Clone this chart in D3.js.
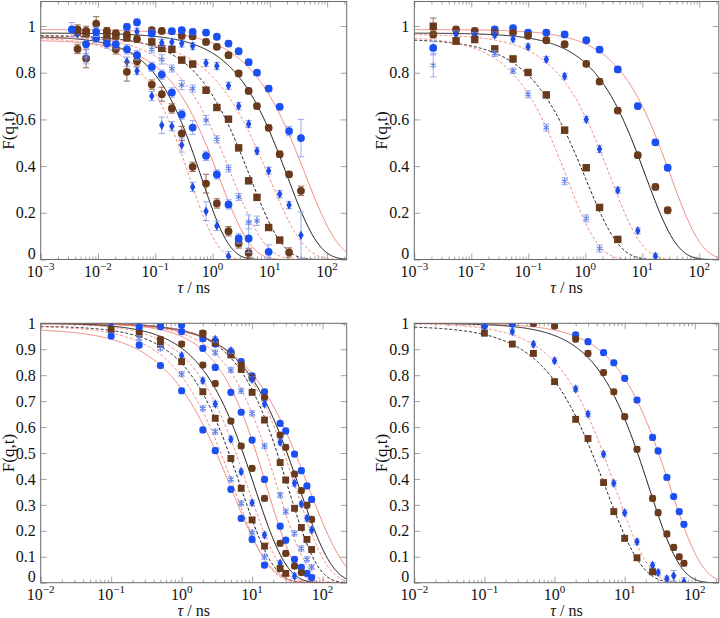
<!DOCTYPE html>
<html><head><meta charset="utf-8">
<script src="https://cdn.jsdelivr.net/npm/d3@7"></script>
<style>body{margin:0;background:#fff}svg{display:block}
svg text{font-family:"Liberation Serif","DejaVu Serif",serif !important;fill:#111}</style>
</head><body>
<svg id="c" width="720" height="618"></svg>
<script>
// ================= DATA =================
// ---- Panel 1 (top-left) ----
const p1Tau = [0.0035,0.0044,0.0062,0.0093,0.0143,0.0205,0.032,0.048,0.087,0.13,0.195,0.29,0.45,0.77,1.19,1.9,2.86,4.27,5.97,9.55,14.9,21.7,35];
const _ = null;
const p1DiaFast   = [_,_,_,_,0.94,0.91,0.847,0.807,0.70,0.575,0.571,0.49,0.311,0.207,0.144,0.014,_,_,_,_,_,_,_];
const p1DiaFastE  = [_,_,_,_,0.02,0.02,0.02,0.015,0.02,0.035,0.02,0.03,0.02,0.04,0.02,0.02,_,_,_,_,_,_,_];
const p1BrCirFast = [_,0.902,0.861,_,0.944,0.90,0.804,0.849,0.749,0.708,0.647,0.54,0.397,0.325,0.24,0.121,0.069,0.028,_,_,_,0.03,_];
const p1BrCirFastE= [_,0.02,0.04,_,0.02,0.02,0.04,0.02,0.02,0.03,0.02,0.03,0.02,0.04,0.02,0.02,0.02,0.02,_,_,_,0.02,_];
const p1BlCirFast = [_,_,0.922,0.949,0.925,0.922,0.90,0.875,0.825,0.792,0.715,0.621,0.565,0.444,0.364,0.236,0.09,0.09,_,0.033,_,_,_];
const p1BlCirFastE= [_,_,0.04,0.02,0.02,0.02,0.02,0.02,0.02,0.02,0.02,0.02,0.03,0.02,0.02,0.02,0.02,0.06,_,0.03,_,_,_];
const p1Star      = [_,_,0.868,_,_,_,_,_,0.90,0.857,0.818,0.747,0.732,0.597,0.515,0.39,0.268,0.161,0.166,_,_,_,_];
const p1StarE     = [_,_,0.03,_,_,_,_,_,0.015,0.02,0.015,0.02,0.015,0.02,0.015,0.015,0.015,0.03,0.02,_,_,_,_];
const p1BrSq      = [_,0.975,0.968,_,0.963,0.958,0.95,_,0.932,0.904,0.90,0.854,0.837,0.725,0.651,0.601,0.478,0.337,0.266,0.137,0.083,_,_];
const p1BrSqE     = [_,0.015,0.015,_,0.015,0.015,0.015,_,0.012,0.012,0.012,0.012,0.012,0.012,0.012,0.012,0.012,0.012,0.012,0.012,0.012,_,_];
const p1DiaSlow   = [_,0.968,_,0.975,_,_,_,0.975,_,0.928,0.932,0.925,0.914,0.842,0.829,0.744,0.657,0.58,0.465,0.38,0.28,0.233,0.104];
const p1DiaSlowE  = [_,0.02,_,0.02,_,_,_,0.015,_,0.015,0.015,0.015,0.015,0.015,0.015,0.015,0.015,0.015,0.015,0.015,0.015,0.015,0.1];
const p1BrCirSlow = [_,0.985,0.979,1.01,0.979,0.968,0.963,0.944,0.982,0.979,_,0.958,0.956,0.932,0.911,0.875,0.797,0.722,0.657,0.564,0.451,0.365,0.294];
const p1BrCirSlowE= [_,0.02,0.02,0.03,0.015,0.015,0.015,0.015,0.012,0.012,_,0.012,0.012,0.012,0.012,0.012,0.012,0.012,0.012,0.012,0.012,0.012,0.02];
const p1BlCirSlow = [0.985,_,_,0.975,_,_,0.996,1.016,0.968,_,0.978,0.982,0.975,0.972,0.954,0.925,0.892,0.845,0.80,0.732,0.654,0.55,0.52];
const p1BlCirSlowE= [0.03,_,_,0.02,_,_,0.015,0.015,0.015,_,0.012,0.012,0.012,0.012,0.012,0.012,0.012,0.012,0.012,0.012,0.012,0.02,0.08];
// fits F = A exp(-(t/tau)^beta)
const p1FitAmp  = [0.95,0.955,0.94,0.96,0.96,0.95,0.97,0.985];
const p1FitTau  = [0.40,0.64,1.33,2.21,4.54,9.8,20.2,42];
const p1FitBeta = [0.9,0.9,0.8,0.75,0.77,0.72,0.79,0.75];

// ---- Panel 2 (top-right) ----
const p2Tau = [0.00215,0.0054,0.0115,0.0258,0.054,0.099,0.207,0.434,1.04,1.78,3.72,8.34,17.0,27.9];
const p2BlCir = [0.906,_,_,0.985,0.991,0.972,0.972,0.964,0.939,0.899,0.814,0.657,0.502,0.393];
const p2BlCirE= [0.03,_,_,0.012,0.012,0.012,0.012,0.012,0.012,0.012,0.012,0.012,0.012,0.012];
const p2BrCir = [0.964,0.985,0.979,0.972,0.971,0.958,0.939,0.922,0.838,0.762,0.638,0.447,0.311,0.211];
const p2BrCirE= [0.015,0.012,0.012,0.012,0.012,0.012,0.012,0.012,0.012,0.012,0.012,0.012,0.012,0.012];
const p2Dia   = [_,0.964,0.96,0.962,0.944,0.911,0.857,0.785,0.60,0.473,0.297,0.123,0.014,_];
const p2DiaE  = [_,0.015,0.012,0.012,0.012,0.012,0.012,0.012,0.012,0.015,0.012,0.012,0.012,_];
const p2BrSq  = [0.999,0.936,0.942,0.902,0.859,0.801,0.705,0.554,0.393,0.223,0.086,_,_,_];
const p2BrSqE = [0.035,0.015,0.012,0.012,0.012,0.012,0.012,0.012,0.012,0.012,0.012,_,_,_];
const p2Star  = [0.832,_,_,0.882,0.808,0.707,0.565,0.335,0.176,0.047,_,_,_,_];
const p2StarE = [0.05,_,_,0.012,0.012,0.015,0.015,0.015,0.015,0.015,_,_,_,_];
const p2FitAmp  = [0.985,0.97,0.965,0.945,0.955];
const p2FitTau  = [31,11.5,2.74,1.01,0.473];
const p2FitBeta = [0.8,0.8,0.78,0.74,0.78];

// ---- Panel 3 (bottom-left) ----
const p3Tau = [0.1,0.25,0.5,1,2,3,5,7,10,15,25,30,40,50,60,70];
const p3BlCirA = [_,1.0,0.997,0.993,0.94,0.92,0.89,0.852,0.797,0.736,0.614,0.585,0.496,0.432,0.373,0.321];
const p3BrCirB = [_,_,_,_,0.962,0.93,0.885,0.84,0.79,0.714,0.569,0.522,0.419,0.355,0.299,0.244];
const p3BrSqC  = [_,_,_,_,0.959,0.925,0.878,0.822,0.734,0.627,0.463,0.396,0.287,0.213,0.167,0.128];
const p3DiaD   = [0.997,_,_,_,_,0.938,0.894,_,0.784,0.689,0.541,_,0.383,0.303,0.248,0.203];
const p3StarE  = [_,_,_,_,_,0.887,0.82,0.74,0.653,0.527,0.338,0.274,0.19,0.132,0.09,0.06];
const p3BlCirF = [_,0.984,0.987,0.968,0.903,0.83,0.734,0.657,0.55,0.398,0.218,0.164,0.09,0.059,0.036,0.02];
const p3BrCirG = [_,_,0.938,0.92,0.839,0.768,0.623,0.527,0.441,0.325,0.152,0.113,0.064,0.039,_,_];
const p3DiaH   = [_,_,_,0.875,0.779,0.689,0.553,0.428,0.308,0.184,0.075,_,0.026,_,_,_];
const p3BrSqI  = [0.977,0.961,0.919,0.852,0.736,0.634,0.479,0.364,0.242,0.141,0.055,0.036,_,_,_,_];
const p3StarJ  = [_,0.942,0.904,0.804,0.672,0.582,0.398,0.306,0.193,0.10,_,_,_,_,_,_];
const p3BlCirK = [0.951,0.916,0.837,0.74,0.589,0.509,0.36,0.248,0.167,0.068,_,_,_,_,_,_];
const p3FitAmp  = [1.0,1.0,1.0,1.0,1.0,1.0,1.0,1.0,0.99,0.99,0.98];
const p3FitTau  = [63.4,46.5,32.3,41.4,22.9,16.2,10.9,8.7,7.0,5.55,5.1];
const p3FitBeta = [0.83,0.93,1.04,0.967,1.03,1.06,0.96,0.94,0.947,0.886,0.8];

// ---- Panel 4 (bottom-right) ----
const p4Tau = [0.1,0.25,0.5,1,2,3,5,7,10,15,25,30,40,50,60,70];
const p4BlCir = [0.991,0.997,1.0,_,0.955,0.929,0.887,0.848,0.788,0.704,0.56,0.508,0.406,0.332,0.274,0.225];
const p4BrCir = [_,_,1.0,0.99,0.939,0.884,0.81,0.736,0.64,0.514,0.325,0.27,0.188,0.136,0.10,0.075];
const p4Dia   = [0.987,0.968,0.919,0.856,0.747,0.65,0.495,0.383,0.27,0.158,0.067,0.039,0.015,0.027,_,0.004];
const p4DiaE  = [0.01,0.01,0.01,0.01,0.01,0.01,0.01,0.01,0.01,0.01,0.01,0.01,0.01,0.02,_,0.015];
const p4BrSq  = [0.962,0.92,0.884,0.775,0.63,0.556,0.386,0.274,0.171,0.096,0.042,_,_,_,_,_];
const p4FitAmp  = [1.0,1.0,1.0,0.99];
const p4FitTau  = [44.6,22.2,7.35,5.37];
const p4FitBeta = [0.955,0.977,0.914,0.846];

const yTicksTop = [0,0.2,0.4,0.6,0.8,1];
const yTicksBot = [0,0.1,0.2,0.3,0.4,0.5,0.6,0.7,0.8,0.9,1];

// ================= STYLES =================
const COL = {
  blue:"#1a4ff2", brown:"#6a3a1c", dia:"#1f4be6", star:"#5c7ee6",
  errBlue:"#8ea2ee", errBrown:"#8e5e3e",
  red:"#f07a72", black:"#1a1a1a"
};
const STY = {
  redSolid:{c:COL.red,d:null,w:0.9},
  redDash:{c:COL.red,d:"3,2",w:0.9},
  blackSolid:{c:COL.black,d:null,w:1},
  blackDash:{c:COL.black,d:"3,2",w:1}
};

function mk(tau, vals, errs, mark, fitI, style){ return {tau, vals, errs, mark, fitI, style}; }

const panels = [
 { id:1, left:40.7, right:346.7, top:1.5, bottom:259.5, xdom:[1e-3,220], ydom:[0,1.105], yticks:yTicksTop, r:3.9,
   fit:[p1FitAmp,p1FitTau,p1FitBeta],
   series:[
     mk(p1Tau,p1DiaFast,p1DiaFastE,"diamond",0,"redDash"),
     mk(p1Tau,p1BrCirFast,p1BrCirFastE,"brcircle",1,"blackSolid"),
     mk(p1Tau,p1BlCirFast,p1BlCirFastE,"circle",2,"redSolid"),
     mk(p1Tau,p1Star,p1StarE,"star",3,"redDash"),
     mk(p1Tau,p1BrSq,p1BrSqE,"square",4,"blackDash"),
     mk(p1Tau,p1DiaSlow,p1DiaSlowE,"diamond",5,"redDash"),
     mk(p1Tau,p1BrCirSlow,p1BrCirSlowE,"brcircle",6,"blackSolid"),
     mk(p1Tau,p1BlCirSlow,p1BlCirSlowE,"circle",7,"redSolid")
   ]},
 { id:2, left:414.3, right:718.8, top:1.5, bottom:259.5, xdom:[1e-3,220], ydom:[0,1.105], yticks:yTicksTop, r:3.9,
   fit:[p2FitAmp,p2FitTau,p2FitBeta],
   series:[
     mk(p2Tau,p2BlCir,p2BlCirE,"circle",0,"redSolid"),
     mk(p2Tau,p2BrCir,p2BrCirE,"brcircle",1,"blackSolid"),
     mk(p2Tau,p2Dia,p2DiaE,"diamond",2,"redDash"),
     mk(p2Tau,p2BrSq,p2BrSqE,"square",3,"blackDash"),
     mk(p2Tau,p2Star,p2StarE,"star",4,"redDash")
   ]},
 { id:3, left:40.7, right:346.7, top:323.3, bottom:582.7, xdom:[1e-2,220], ydom:[0,1], yticks:yTicksBot, r:3.6,
   fit:[p3FitAmp,p3FitTau,p3FitBeta],
   series:[
     mk(p3Tau,p3BlCirA,null,"circle",0,"redSolid"),
     mk(p3Tau,p3BrCirB,null,"brcircle",1,"blackSolid"),
     mk(p3Tau,p3BrSqC,null,"square",2,"blackDash"),
     mk(p3Tau,p3DiaD,null,"diamond",3,"redDash"),
     mk(p3Tau,p3StarE,null,"star",4,"redDash"),
     mk(p3Tau,p3BlCirF,null,"circle",5,"redSolid"),
     mk(p3Tau,p3BrCirG,null,"brcircle",6,"blackSolid"),
     mk(p3Tau,p3DiaH,null,"diamond",7,"redDash"),
     mk(p3Tau,p3BrSqI,null,"square",8,"blackDash"),
     mk(p3Tau,p3StarJ,null,"star",9,"redDash"),
     mk(p3Tau,p3BlCirK,null,"circle",10,"redSolid")
   ]},
 { id:4, left:414.3, right:718.8, top:323.3, bottom:582.7, xdom:[1e-2,220], ydom:[0,1], yticks:yTicksBot, r:3.6,
   fit:[p4FitAmp,p4FitTau,p4FitBeta],
   series:[
     mk(p4Tau,p4BlCir,null,"circle",0,"redSolid"),
     mk(p4Tau,p4BrCir,null,"brcircle",1,"blackSolid"),
     mk(p4Tau,p4Dia,p4DiaE,"diamond",2,"redDash"),
     mk(p4Tau,p4BrSq,null,"square",3,"blackDash")
   ]}
];

const svg = d3.select("#c");
const FONT = '"Liberation Serif","DejaVu Serif",serif';

panels.forEach(P => {
  const x = d3.scaleLog().domain(P.xdom).range([P.left, P.right]);
  const y = d3.scaleLinear().domain(P.ydom).range([P.bottom, P.top]);
  const g = svg.append("g");
  const clipId = "clip" + P.id;
  svg.append("clipPath").attr("id", clipId).append("rect")
    .attr("x", P.left).attr("y", P.top).attr("width", P.right - P.left).attr("height", P.bottom - P.top);

  // ---- ticks ----
  const lo = Math.log10(P.xdom[0]), hi = Math.log10(P.xdom[1]);
  const majors = d3.range(Math.ceil(lo - 1e-9), Math.floor(hi) + 1).map(e => Math.pow(10, e));
  const minors = [];
  for (let e = Math.floor(lo); e <= Math.floor(hi); e++)
    for (let k = 2; k < 10; k++) { const v = k * Math.pow(10, e); if (v > P.xdom[0] && v < P.xdom[1]) minors.push(v); }

  function styleAxis(sel){ sel.attr("font-family",null).select(".domain").remove(); sel.selectAll("line").attr("stroke","#8a8a8a").attr("stroke-width",0.8); }
  g.append("g").attr("transform",`translate(0,${P.bottom})`).call(d3.axisBottom(x).tickValues(majors).tickSize(-6).tickFormat("")).call(styleAxis);
  g.append("g").attr("transform",`translate(0,${P.bottom})`).call(d3.axisBottom(x).tickValues(minors).tickSize(-3).tickFormat("")).call(styleAxis);
  g.append("g").attr("transform",`translate(0,${P.top})`).call(d3.axisTop(x).tickValues(majors).tickSize(-6).tickFormat("")).call(styleAxis);
  g.append("g").attr("transform",`translate(0,${P.top})`).call(d3.axisTop(x).tickValues(minors).tickSize(-3).tickFormat("")).call(styleAxis);
  const ya = g.append("g").attr("transform",`translate(${P.left},0)`)
    .call(d3.axisLeft(y).tickValues(P.yticks).tickSize(-6).tickPadding(5).tickFormat(d3.format("~g"))).call(styleAxis);
  ya.attr("font-size",null);
  ya.selectAll("text").style("font-family",FONT).style("font-size","16px").attr("fill","#111")
    .attr("dy", d => d === 0 ? "-0.05em" : "0.32em");
  g.append("g").attr("transform",`translate(${P.right},0)`)
    .call(d3.axisRight(y).tickValues(P.yticks).tickSize(-6).tickFormat("")).call(styleAxis);

  // x tick labels 10^e
  majors.forEach(v => {
    const e = Math.round(Math.log10(v));
    const t = g.append("text").attr("x", x(v)).attr("y", P.bottom + 17.5)
      .attr("text-anchor","middle").style("font-family",FONT).style("font-size","16px").attr("fill","#111");
    t.append("tspan").text("10");
    t.append("tspan").attr("dy",-7).style("font-size","11px").text(e < 0 ? "\u2212" + (-e) : String(e));
  });

  // axis titles
  const xt = g.append("text").attr("x",(P.left+P.right)/2).attr("y",P.bottom+33)
    .attr("text-anchor","middle").style("font-family",FONT).style("font-size","16px").attr("fill","#111");
  xt.append("tspan").style("font-style","italic").text("\u03C4");
  xt.append("tspan").text(" / ns");
  g.append("text").attr("transform",`translate(${P.left-27},${(P.top+P.bottom)/2}) rotate(-90)`)
    .attr("text-anchor","middle").style("font-family",FONT).style("font-size","17px").attr("fill","#111").text("F(q,t)");

  // ---- fit curves ----
  const plot = g.append("g").attr("clip-path",`url(#${clipId})`);
  const samples = d3.range(0, 401).map(i => Math.pow(10, lo + (hi - lo) * i / 400));
  const line = d3.line().x(d => x(d[0])).y(d => y(d[1]));
  P.series.forEach(s => {
    const A = P.fit[0][s.fitI], T = P.fit[1][s.fitI], B = P.fit[2][s.fitI];
    const st = STY[s.style];
    plot.append("path").datum(samples.map(t => [t, A * Math.exp(-Math.pow(t / T, B))]))
      .attr("d", line).attr("fill","none").attr("stroke", st.c).attr("stroke-width", st.w)
      .attr("stroke-dasharray", st.d);
  });

  // ---- error bars + markers ----
  P.series.forEach(s => {
    const pts = s.tau.map((t,i) => ({t, v:s.vals[i], e: s.errs ? s.errs[i] : 0.01})).filter(d => d.v !== null && d.v !== undefined);
    const isBrown = (s.mark === "brcircle" || s.mark === "square");
    const ec = isBrown ? COL.errBrown : COL.errBlue;
    const eg = plot.append("g").attr("stroke", ec).attr("stroke-width", 0.9);
    pts.forEach(d => {
      const e = d.e || 0.01, cx = x(d.t);
      eg.append("line").attr("x1",cx).attr("x2",cx).attr("y1",y(d.v - e)).attr("y2",y(d.v + e));
      [d.v - e, d.v + e].forEach(vv => eg.append("line").attr("x1",cx-3.2).attr("x2",cx+3.2).attr("y1",y(vv)).attr("y2",y(vv)));
    });
    const mg = plot.append("g");
    pts.forEach(d => {
      const cx = x(d.t), cy = y(d.v);
      if (s.mark === "circle" || s.mark === "brcircle") {
        mg.append("circle").attr("cx",cx).attr("cy",cy).attr("r",P.r).attr("fill", s.mark === "circle" ? COL.blue : COL.brown);
      } else if (s.mark === "square") {
        const h = P.r * 0.95;
        mg.append("rect").attr("x",cx-h).attr("y",cy-h).attr("width",2*h).attr("height",2*h).attr("fill",COL.brown);
      } else if (s.mark === "diamond") {
        mg.append("path").attr("transform",`translate(${cx},${cy})`).attr("d", d3.symbol(d3.symbolDiamond, 26)()).attr("fill",COL.dia);
      } else if (s.mark === "star") {
        mg.append("path").attr("transform",`translate(${cx},${cy})`).attr("d", d3.symbol(d3.symbolAsterisk, 28)())
          .attr("fill","none").attr("stroke",COL.star).attr("stroke-width",1.1);
      }
    });
  });

  // frame
  g.append("rect").attr("x",P.left).attr("y",P.top).attr("width",P.right-P.left).attr("height",P.bottom-P.top)
    .attr("fill","none").attr("stroke","#6a6a6a").attr("stroke-width",1);
});
</script>
</body></html>
